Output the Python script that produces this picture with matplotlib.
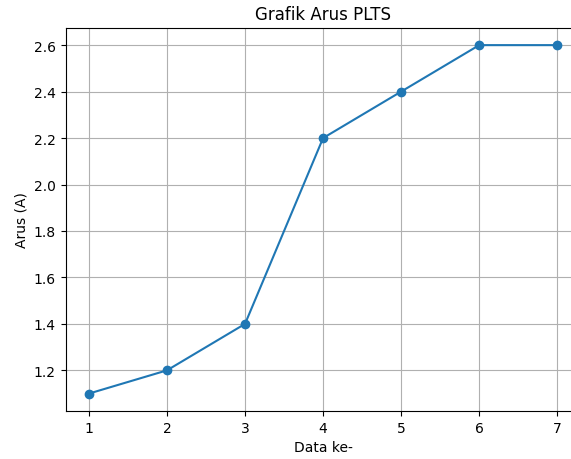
import matplotlib
matplotlib.use('Agg')
import matplotlib.pyplot as plt

data_ke = [1, 2, 3, 4, 5, 6, 7]
arus = [1.1, 1.2, 1.4, 2.2, 2.4, 2.6, 2.6]

fig = plt.figure(figsize=(5.71, 4.6), dpi=100)
# the right spine sits just past the picture's right edge in the reference
ax = fig.add_axes([65.5 / 571, 1 - 412 / 460, (580.7 - 65.5) / 571, (412 - 28.7) / 460])
ax.plot(data_ke, arus, marker='o')
ax.set_title('Grafik Arus PLTS')
ax.set_xlabel('Data ke-')
ax.set_ylabel('Arus (A)')
ax.grid(True)
fig.savefig('out.png', dpi=100)
